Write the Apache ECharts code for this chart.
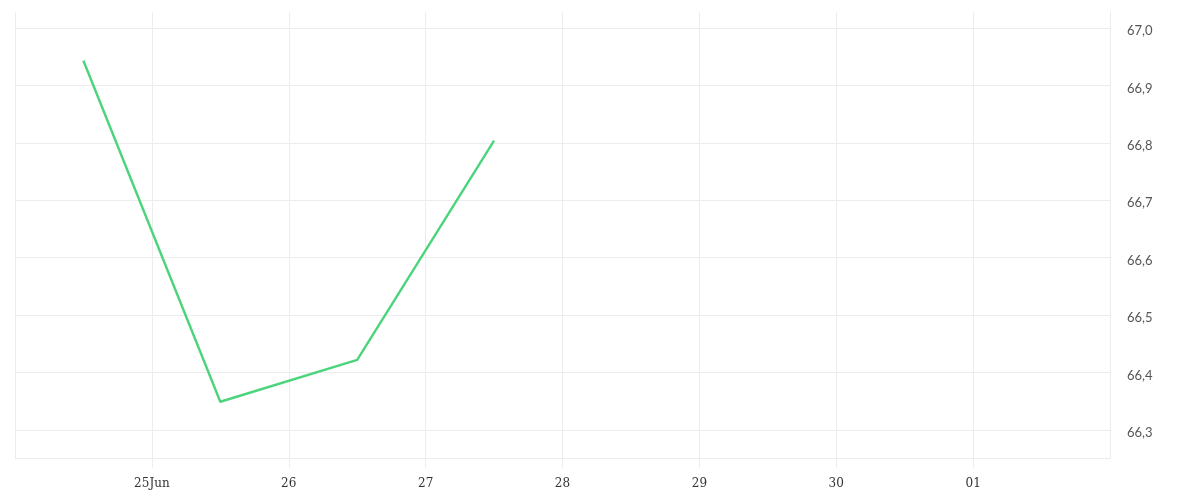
<!DOCTYPE html>
<html>
<head>
<meta charset="utf-8">
<script src="https://cdn.jsdelivr.net/npm/echarts@6/dist/echarts.min.js"></script>
<style>html,body{margin:0;padding:0;background:#fff}#c{width:1200px;height:500px}</style>
</head>
<body>
<div id="c"></div>
<script>
var DAY = 86400000;
var dates = ['2024-06-24T12:00', '2024-06-25T12:00', '2024-06-26T12:00', '2024-06-27T12:00'];
var values = [66.943, 66.349, 66.422, 66.804];
var xTickDates = ['2024-06-25', '2024-06-26', '2024-06-27', '2024-06-28', '2024-06-29', '2024-06-30', '2024-07-01'];
var xTickLabels = ['25Jun', '26', '27', '28', '29', '30', '01'];
var yGridValues = [66.3, 66.4, 66.5, 66.6, 66.7, 66.8, 66.9, 67.0];
var xMin = '2024-06-24', xMax = '2024-07-02';
var yMin = 66.251, yMax = 67.028;

function ts(s) { return Date.parse(s + (s.length > 10 ? ':00Z' : 'T00:00:00Z')); }
var labelMap = {};
xTickDates.forEach(function (d, i) { labelMap[ts(d)] = xTickLabels[i]; });
var data = dates.map(function (d, i) { return [ts(d), values[i]]; });

var chart = echarts.init(document.getElementById('c'));
chart.setOption({
  animation: false,
  grid: { left: 15, right: 90, top: 12, bottom: 42, containLabel: false },
  xAxis: {
    type: 'value',
    min: ts(xMin), max: ts(xMax), interval: DAY,
    axisLine: { show: true, lineStyle: { color: '#ececec', width: 1 } },
    axisTick: { show: true, length: 10, lineStyle: { color: '#ececec' } },
    splitLine: { show: true, lineStyle: { color: '#ececec', width: 1 } },
    axisLabel: {
      showMinLabel: false, showMaxLabel: false,
      margin: 20, color: '#333', fontSize: 12, fontFamily: 'DejaVu Serif',
      formatter: function (v) { return labelMap[v] || ''; }
    }
  },
  yAxis: {
    type: 'value', position: 'right',
    min: yMin, max: yMax, splitNumber: 8,
    axisLine: { show: true, lineStyle: { color: '#ececec' } },
    axisTick: { show: false },
    splitLine: { show: false },
    axisLabel: {
      showMinLabel: false, showMaxLabel: false,
      margin: 17, color: '#555', fontSize: 13, fontFamily: 'Lato',
      verticalAlign: 'top', lineHeight: 6,
      formatter: function (v) { return v.toFixed(1).replace('.', ','); }
    }
  },
  series: [{
    type: 'line', data: data, symbol: 'none',
    lineStyle: { color: '#4cd47c', width: 2.4 },
    markLine: {
      silent: true, symbol: 'none', label: { show: false },
      lineStyle: { color: '#ececec', width: 1, type: 'solid' },
      data: yGridValues.map(function (v) { return { yAxis: v }; }),
      z: 0
    }
  }]
});
</script>
</body>
</html>
